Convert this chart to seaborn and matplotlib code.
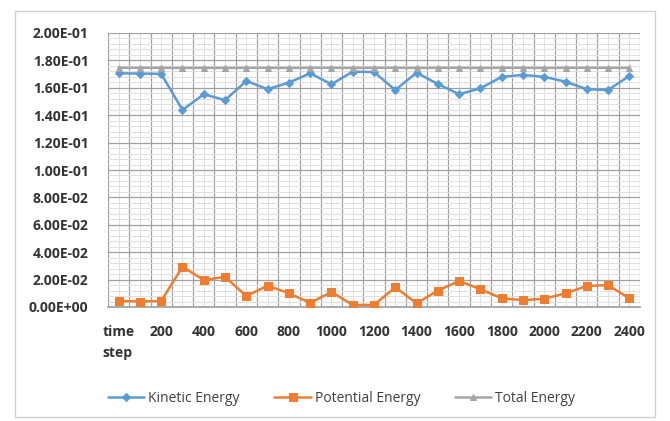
import numpy as np
import pandas as pd
import matplotlib
matplotlib.use("Agg")
import matplotlib.pyplot as plt
from matplotlib.ticker import FuncFormatter, MultipleLocator
from matplotlib.patches import Rectangle
import seaborn as sns

# Simulation energies sampled every 100 time steps
steps = [0, 100, 200, 300, 400, 500, 600, 700, 800, 900, 1000, 1100, 1200,
         1300, 1400, 1500, 1600, 1700, 1800, 1900, 2000, 2100, 2200, 2300, 2400]
step_labels = ["time\nstep"] + [str(s) for s in steps[1:]]

kinetic = [0.1706, 0.1704, 0.1702, 0.1438, 0.1553, 0.1510, 0.1650, 0.1590,
           0.1638, 0.1706, 0.1626, 0.1718, 0.1715, 0.1584, 0.1710, 0.1628,
           0.1553, 0.1596, 0.1680, 0.1694, 0.1680, 0.1645, 0.1590, 0.1584,
           0.1686]
potential = [0.0044, 0.0040, 0.0044, 0.0294, 0.0197, 0.0220, 0.0080, 0.0156,
             0.0100, 0.0030, 0.0110, 0.0015, 0.0015, 0.0144, 0.0027, 0.0120,
             0.0190, 0.0130, 0.0063, 0.0050, 0.0060, 0.0100, 0.0153, 0.0160,
             0.0063]
total = [0.1746, 0.1746, 0.1746, 0.1745, 0.1746, 0.1745, 0.1746, 0.1746,
         0.1745, 0.1746, 0.1746, 0.1745, 0.1746, 0.1746, 0.1745, 0.1746,
         0.1746, 0.1745, 0.1746, 0.1746, 0.1745, 0.1746, 0.1746, 0.1746,
         0.1745]

series_names = ["Kinetic Energy", "Potential Energy", "Total Energy"]
colors = {"Kinetic Energy": "#5B9BD5", "Potential Energy": "#ED7D31",
          "Total Energy": "#A5A5A5"}
markers = {"Kinetic Energy": "D", "Potential Energy": "s", "Total Energy": "^"}
msize = {"Kinetic Energy": 4, "Potential Energy": 6, "Total Energy": 5}

pos = np.arange(len(steps))
df = pd.concat([
    pd.DataFrame({"pos": pos, "value": vals, "series": name})
    for name, vals in zip(series_names, [kinetic, potential, total])
], ignore_index=True)

sns.set_theme(style="white")
plt.rcParams["font.family"] = ["Open Sans", "DejaVu Sans"]

fig = plt.figure(figsize=(6.7, 4.21), dpi=100)
ax = fig.add_axes([108 / 670, 1 - 307 / 421, 532 / 670, 274 / 421])

# outer chart frame
fig.patches.append(Rectangle((15 / 670, 1 - 417 / 421), 640 / 670, 406 / 421,
                             transform=fig.transFigure, fill=False,
                             edgecolor="#d0d0d0", linewidth=1.0))

for name in series_names:
    sub = df[df["series"] == name]
    sns.lineplot(data=sub, x="pos", y="value", ax=ax, color=colors[name],
                 marker=markers[name], markersize=msize[name],
                 markeredgecolor=colors[name], linewidth=1.8, label=name,
                 zorder=3)

ax.set_xlim(-0.5, len(steps) - 0.5)
ax.set_ylim(0, 0.2)

# horizontal gridlines: major every 0.02, minor every 0.004
ax.yaxis.set_major_locator(MultipleLocator(0.02))
ax.yaxis.set_minor_locator(MultipleLocator(0.004))
ax.grid(axis="y", which="major", color="#a0a0a0", linewidth=0.9, zorder=0)
ax.grid(axis="y", which="minor", color="#e0e0e0", linewidth=0.7, zorder=0)

# vertical gridlines at category boundaries, lighter ones at category centres
ax.vlines(np.arange(-0.5, len(steps)), 0, 0.2, colors="#a0a0a0",
          linewidth=0.9, zorder=0.5)
ax.vlines(pos, 0, 0.2, colors="#e0e0e0", linewidth=0.7, zorder=0.4)

ax.set_xticks(pos[::2])
ax.set_xticklabels(step_labels[::2])
ax.tick_params(axis="x", length=0, pad=13)
for lbl in ax.get_xticklabels():
    lbl.set_verticalalignment("top")
    lbl.set_multialignment("left")
    lbl.set_linespacing(1.6)
ax.yaxis.set_major_formatter(FuncFormatter(lambda v, p: f"{v:.2E}"))
ax.tick_params(axis="y", which="both", length=0, pad=14)
for lbl in ax.get_xticklabels() + ax.get_yticklabels():
    lbl.set_fontsize(10)
    lbl.set_fontweight("bold")
    lbl.set_color("#333333")

for s in ["top", "right", "left"]:
    ax.spines[s].set_visible(False)
ax.spines["bottom"].set_color("#a0a0a0")

ax.set_xlabel("")
ax.set_ylabel("")

ax.legend_.remove()
handles, labels = ax.get_legend_handles_labels()
fig.legend(handles, labels, loc="center", bbox_to_anchor=(0.51, 1 - 398 / 421),
           ncol=3, frameon=False, fontsize=10, handlelength=2.6,
           columnspacing=2.5, handletextpad=0.3, labelcolor="#404040")

fig.savefig("out.png", dpi=100)
